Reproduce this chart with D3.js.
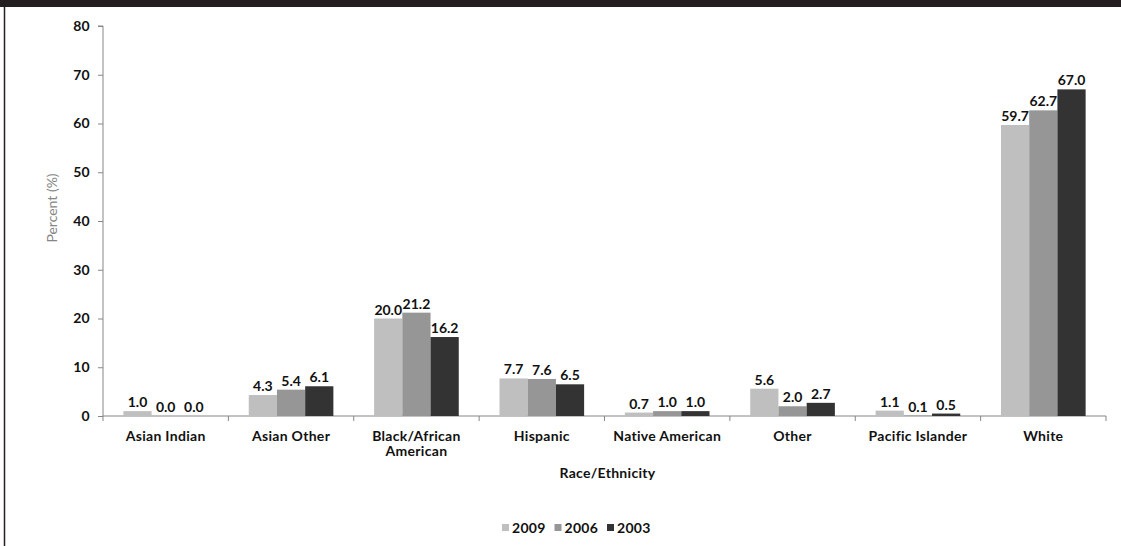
<!DOCTYPE html>
<html><head><meta charset="utf-8">
<script src="https://cdn.jsdelivr.net/npm/d3@7"></script>
<style>
body{margin:0;background:#fff;}
svg{display:block;}
text{font-family:Lato,"DejaVu Sans",sans-serif;}
</style></head>
<body><svg id="c" width="1121" height="546"></svg>
<script>
const categories = [["Asian Indian"],["Asian Other"],["Black/African","American"],["Hispanic"],["Native American"],["Other"],["Pacific Islander"],["White"]];
const seriesNames = ["2009","2006","2003"];
const values2009 = [1.0,4.3,20.0,7.7,0.7,5.6,1.1,59.7];
const values2006 = [0.0,5.4,21.2,7.6,1.0,2.0,0.1,62.7];
const values2003 = [0.0,6.1,16.2,6.5,1.0,2.7,0.5,67.0];
const yTicks = [0,10,20,30,40,50,60,70,80];
const colors = ["#bfbfbf","#969696","#333333"];

const series = [values2009, values2006, values2003];
const svg = d3.select("#c");
const L = 103, R = 1106, T = 26, B = 416;
const FS = 14, LS = 0.3;

// frame
svg.append("rect").attr("x",0).attr("y",0).attr("width",1121).attr("height",7).attr("fill","#231f20");
svg.append("line").attr("x1",4.5).attr("x2",4.5).attr("y1",0).attr("y2",546).attr("stroke","#231f20").attr("stroke-width",1.5);

const x0 = d3.scaleBand().domain(d3.range(categories.length)).range([L,R]).paddingInner(0).paddingOuter(0);
const cw = x0.bandwidth();
const bw = cw*0.225;
const x1 = d3.scaleBand().domain(d3.range(3)).range([(cw-3*bw)/2,(cw+3*bw)/2]).padding(0);
const y = d3.scaleLinear().domain([0,80]).range([B,T]);

// y axis
const yAxis = d3.axisLeft(y).tickValues(yTicks).tickSize(5).tickPadding(8).tickFormat(d3.format("d"));
const gy = svg.append("g").attr("transform",`translate(${L},0)`).call(yAxis);
gy.select(".domain").attr("stroke","#868686").attr("d",`M-5,${T}H0V${B}`);
gy.selectAll(".tick line").attr("stroke","#868686");
gy.selectAll(".tick text").attr("font-size",FS).attr("font-weight",700).attr("fill","#111").attr("font-family","Lato").attr("letter-spacing",LS);

// x axis
const xAxisLine = svg.append("g").attr("transform",`translate(0,${B})`);
xAxisLine.append("line").attr("x1",L).attr("x2",R).attr("y1",0).attr("y2",0).attr("stroke","#868686");
const bounds = d3.range(categories.length+1).map(i => i<categories.length ? x0(i) : x0(i-1)+cw);
xAxisLine.selectAll("line.t").data(bounds).join("line").attr("class","t")
  .attr("x1",d=>d).attr("x2",d=>d).attr("y1",0).attr("y2",5).attr("stroke","#868686");

// bars
const g = svg.append("g");
categories.forEach((c,i)=>{
  series.forEach((s,j)=>{
    const v = s[i];
    const bx = x0(i)+x1(j);
    g.append("rect").attr("x",bx).attr("y",y(v)).attr("width",x1.bandwidth()).attr("height",B-y(v)).attr("fill",colors[j]);
    g.append("text").attr("x",bx+x1.bandwidth()/2).attr("y",y(v)-4).attr("text-anchor","middle")
      .attr("font-size",FS).attr("font-weight",700).attr("fill","#111").text(v.toFixed(1));
  });
  const t = svg.append("text").attr("text-anchor","middle").attr("font-size",FS).attr("font-weight",700).attr("fill","#111").attr("letter-spacing",LS);
  c.forEach((line,k)=>{
    t.append("tspan").attr("x",x0(i)+cw/2).attr("y",441+k*15).text(line);
  });
});

// axis titles
svg.append("text").attr("x",(L+R)/2+3).attr("y",478).attr("text-anchor","middle").attr("font-size",FS).attr("font-weight",700).attr("fill","#111").attr("letter-spacing",LS).text("Race/Ethnicity");
svg.append("text").attr("transform","translate(57,208) rotate(-90)").attr("text-anchor","middle").attr("font-size",14).attr("fill","#858585").text("Percent (%)");

// legend
const leg = svg.append("g").attr("transform","translate(502,528)");
seriesNames.forEach((n,j)=>{
  const lg = leg.append("g").attr("transform",`translate(${j*52.5},0)`);
  lg.append("rect").attr("x",0).attr("y",-4).attr("width",7).attr("height",7).attr("fill",colors[j]);
  lg.append("text").attr("x",10).attr("y",5).attr("font-size",FS).attr("font-weight",700).attr("fill","#111").attr("letter-spacing",LS).text(n);
});
</script></body></html>
